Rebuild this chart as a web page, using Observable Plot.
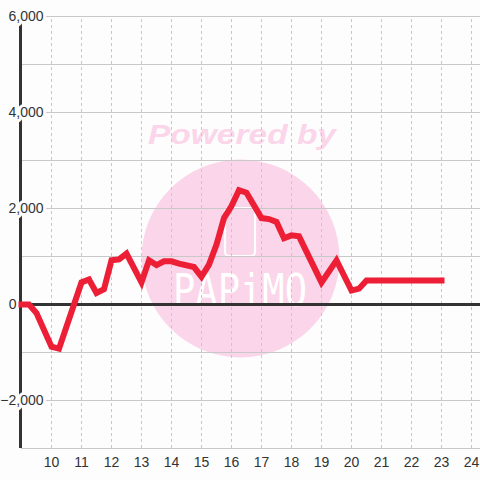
<!DOCTYPE html>
<html>
<head>
<meta charset="utf-8">
<script src="https://cdn.jsdelivr.net/npm/d3@7"></script>
<script src="https://cdn.jsdelivr.net/npm/@observablehq/plot@0.6"></script>
<style>
  html, body { margin: 0; padding: 0; background: #fdfdfd; }
  #wrap { position: relative; width: 480px; height: 480px; overflow: hidden; }
  #wm, #chart { position: absolute; left: 0; top: 0; }
</style>
</head>
<body>
<div id="wrap">
  <svg id="wm" width="480" height="480">
    <circle cx="240.5" cy="258.5" r="99" fill="#fbd5e9"></circle>
    <text x="242" y="144" text-anchor="middle" font-family="Liberation Sans, Arial, sans-serif" font-size="28" font-weight="bold" font-style="italic" fill="#fbd5e9" textLength="188" lengthAdjust="spacingAndGlyphs">Powered by</text>
    <rect x="225" y="208" width="30" height="48" rx="4" fill="none" stroke="#ffffff" stroke-width="2.2"></rect>
    <text x="240" y="306" text-anchor="middle" font-family="DejaVu Sans Mono, monospace" font-size="44" font-weight="200" fill="#ffffff" textLength="134" lengthAdjust="spacingAndGlyphs">PAPiMO</text>
  </svg>
  <div id="chart"></div>
</div>
<script>
// Data: hour of day and value
const hours  = [9, 9.25, 9.5, 10, 10.25, 11, 11.25, 11.5, 11.75, 12, 12.25, 12.5, 13, 13.25, 13.5, 13.75, 14, 14.25, 14.75, 15, 15.25, 15.5, 15.75, 16, 16.25, 16.5, 17, 17.25, 17.5, 17.75, 18, 18.25, 19, 19.5, 20, 20.25, 20.5, 23];
const values = [0, 0, -180, -880, -920, 460, 520, 240, 320, 920, 940, 1060, 460, 920, 820, 900, 900, 850, 780, 580, 830, 1250, 1800, 2050, 2380, 2330, 1800, 1780, 1720, 1380, 1440, 1420, 460, 920, 290, 330, 500, 500];

const xTicks = [10, 11, 12, 13, 14, 15, 16, 17, 18, 19, 20, 21, 22, 23, 24];
const yTicks = [-2000, 0, 2000, 4000, 6000];
const yGrid  = [-3000, -2000, -1000, 0, 1000, 2000, 3000, 4000, 5000, 6000];

const data = hours.map((h, i) => ({hour: h, value: values[i]}));
const fmt = d3.format(",");
const bg = "#fdfdfd";

const chart = Plot.plot({
  width: 480,
  height: 480,
  marginTop: 16,
  marginBottom: 32,
  marginLeft: 21,
  marginRight: 0,
  x: {domain: [9, 24.3], axis: null},
  y: {domain: [-3000, 6000], axis: null},
  style: {background: "transparent", fontFamily: "Liberation Sans, Arial, sans-serif", fontSize: "14px", color: "#333"},
  marks: [
    Plot.ruleY(yGrid, {stroke: "#c8c8c8", strokeWidth: 1, strokeOpacity: 1}),
    Plot.ruleX(xTicks, {y1: -3000, y2: 6000, stroke: "#c8c8c8", strokeDasharray: "3,3", strokeOpacity: 1}),
    Plot.ruleX([9], {y1: -3000, y2: 6000, stroke: "#333", strokeWidth: 3, dx: -1, strokeOpacity: 1}),
    Plot.ruleY([0], {stroke: "#333", strokeWidth: 3, strokeOpacity: 1}),
    Plot.line(data, {x: "hour", y: "value", stroke: "#ed1f36", strokeWidth: 6, strokeLinecap: "square", strokeLinejoin: "miter", strokeMiterlimit: 3}),
    Plot.text(yTicks.filter(d => d !== 0), {x: () => 9, y: d => d, text: d => fmt(d), textAnchor: "end", dx: 22, fill: "#333", stroke: bg, strokeWidth: 6, fontSize: 14}),
    Plot.text(yTicks.filter(d => d === 0), {x: () => 9, y: d => d, text: d => fmt(d), textAnchor: "end", dx: -5, fill: "#333", fontSize: 14}),
    Plot.text(xTicks, {x: d => d, y: () => -3000, text: d => String(d), dy: 14, fill: "#333", fontSize: 14})
  ]
});
document.getElementById("chart").appendChild(chart);
</script>
</body>
</html>
